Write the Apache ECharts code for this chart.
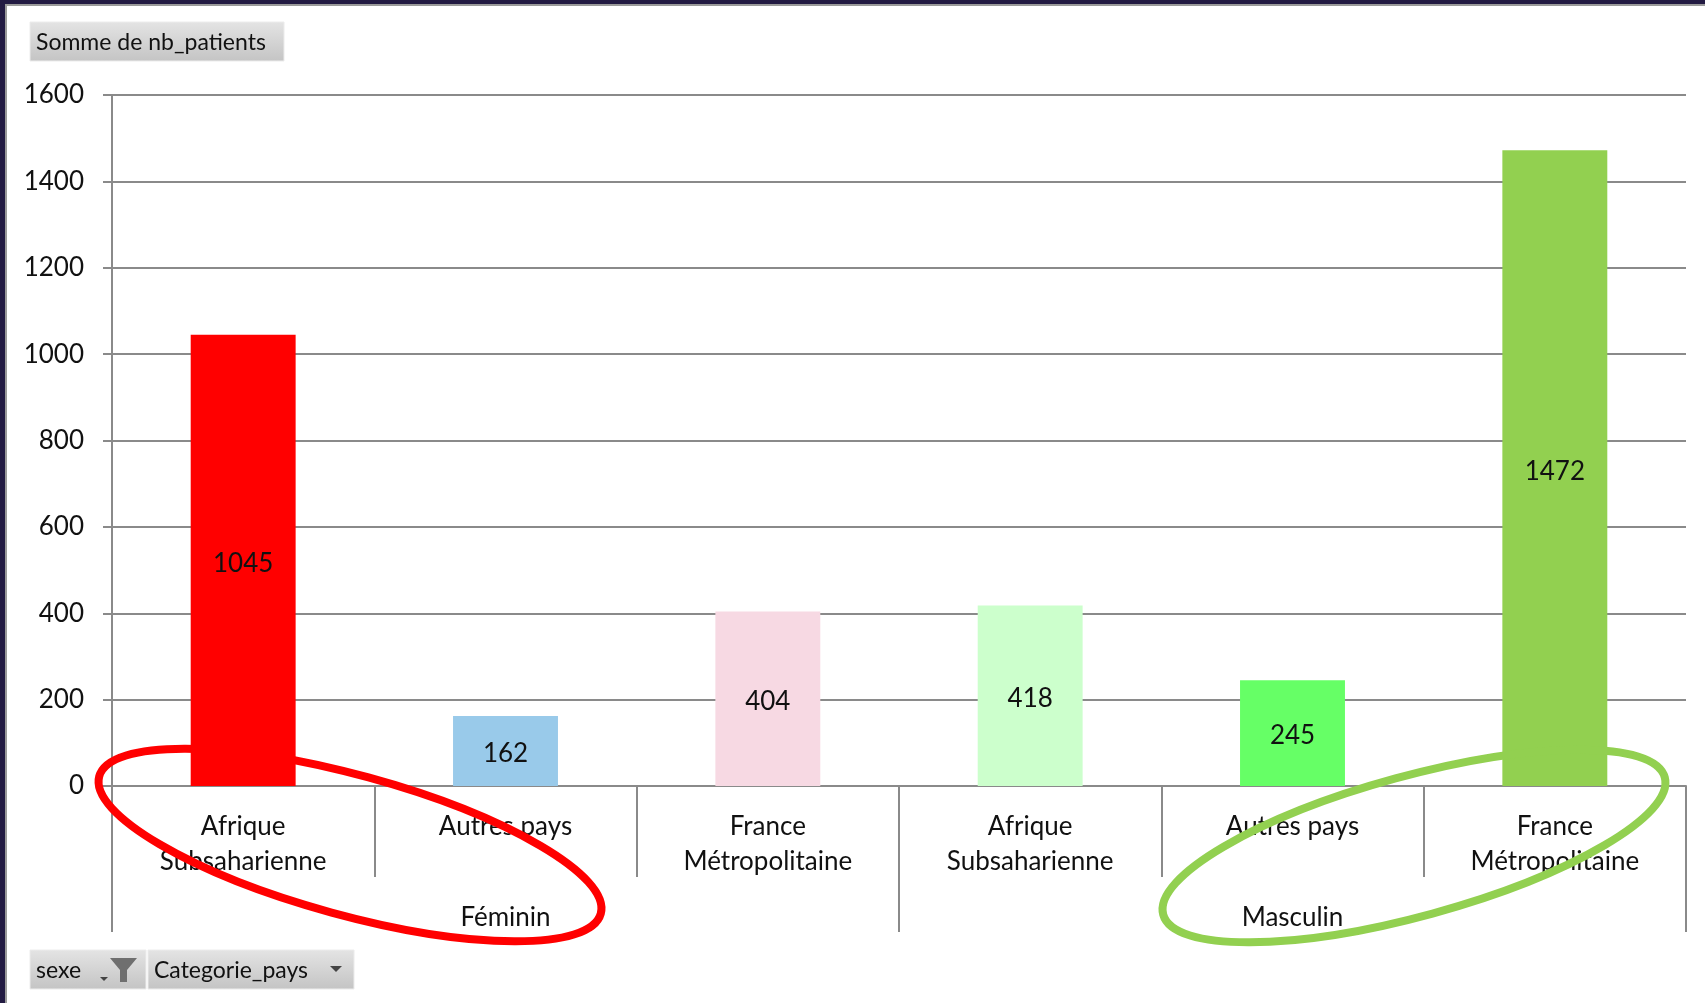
<!DOCTYPE html>
<html>
<head>
<meta charset="utf-8">
<title>Somme de nb_patients</title>
<script src="https://cdn.jsdelivr.net/npm/echarts@6/dist/echarts.min.js"></script>
<style>
  html, body { margin: 0; padding: 0; background: #fff; }
  #chart { width: 1705px; height: 1003px; }
</style>
</head>
<body>
<div id="chart"></div>
<script>
// data
const categories = ['Afrique\nSubsaharienne', 'Autres pays', 'France\nMétropolitaine',
                    'Afrique\nSubsaharienne', 'Autres pays', 'France\nMétropolitaine']
const groups = ['Féminin', 'Masculin']
const patients = [1045, 162, 404, 418, 245, 1472]
const yTicks = [0, 200, 400, 600, 800, 1000, 1200, 1400, 1600]

const barColors = ['#FF0000', '#99CAEA', '#F7D9E3', '#CCFFCC', '#66FF66', '#92D050']
const font = 'Lato, "Open Sans", sans-serif'
const grey = '#8a8a8a'
const ink = '#111111'

const chart = echarts.init(document.getElementById('chart'))

// excel-like field button
const fieldButton = (x, y, w, h, text, extra) => ({
  type: 'group',
  x, y,
  children: [
    {
      type: 'rect',
      shape: { x: 0, y: 0, width: w, height: h },
      style: {
        fill: new echarts.graphic.LinearGradient(0, 0, 0, 1, [
          { offset: 0, color: '#e4e4e4' },
          { offset: 1, color: '#c4c4c4' }
        ]),
        stroke: '#ececec',
        lineWidth: 1
      }
    },
    {
      type: 'text',
      x: 6, y: h / 2 + 1,
      style: { text, font: '23px ' + font, fill: ink, verticalAlign: 'middle' }
    },
    ...(extra || [])
  ]
})

const dropArrow = (x, y, s) => ({
  type: 'polygon',
  shape: { points: [[x, y], [x + s, y], [x + s / 2, y + s / 2]] },
  style: { fill: '#444' }
})

const option = {
  backgroundColor: '#ffffff',
  animation: false,
  grid: { left: 112, right: 19, top: 95, bottom: 217 },
  xAxis: [
    {
      type: 'category',
      position: 'bottom',
      data: categories,
      axisLine: { lineStyle: { color: grey, width: 2 } },
      axisTick: { show: true, interval: 0, length: 91, lineStyle: { color: grey, width: 2 } },
      axisLabel: {
        interval: 0,
        margin: 23,
        color: ink,
        fontFamily: font,
        fontSize: 26,
        lineHeight: 35,
        align: 'center'
      }
    },
    {
      type: 'category',
      position: 'bottom',
      data: groups,
      axisLine: { show: false },
      axisTick: { show: true, interval: 0, length: 146, lineStyle: { color: grey, width: 2 } },
      axisLabel: {
        interval: 0,
        margin: 114,
        color: ink,
        fontFamily: font,
        fontSize: 26,
        lineHeight: 35
      },
      splitLine: { show: false }
    }
  ],
  yAxis: {
    type: 'value',
    min: yTicks[0],
    max: yTicks[yTicks.length - 1],
    interval: yTicks[1] - yTicks[0],
    axisLine: { show: true, lineStyle: { color: grey, width: 2 } },
    axisTick: { show: true, length: 9, lineStyle: { color: grey, width: 2 } },
    axisLabel: {
      margin: 28,
      color: ink,
      fontFamily: font,
      fontSize: 26,
      formatter: v => String(v)
    },
    splitLine: { lineStyle: { color: grey, width: 2 } }
  },
  series: [
    {
      name: 'Somme de nb_patients',
      type: 'bar',
      xAxisIndex: 0,
      barWidth: '40%',
      data: patients.map((v, i) => ({ value: v, itemStyle: { color: barColors[i] } })),
      label: {
        show: true,
        position: 'inside',
        offset: [0, 3],
        color: ink,
        fontFamily: font,
        fontSize: 26
      },
      z: 2
    }
  ],
  graphic: [
    // window frame
    { type: 'rect', shape: { x: 0, y: 0, width: 1705, height: 4 }, style: { fill: '#221a42' }, z: 50 },
    { type: 'rect', shape: { x: 0, y: 4, width: 1705, height: 2 }, style: { fill: '#9a9a9a' }, z: 50 },
    { type: 'rect', shape: { x: 0, y: 0, width: 5, height: 1003 }, style: { fill: '#221a42' }, z: 50 },
    { type: 'rect', shape: { x: 5, y: 4, width: 2, height: 999 }, style: { fill: '#9a9a9a' }, z: 50 },

    // pivot field buttons
    fieldButton(30, 22, 254, 39, 'Somme de nb_patients'),
    fieldButton(30, 950, 116, 39, 'sexe', [
      dropArrow(70, 27, 8),
      {
        type: 'polygon',
        shape: { points: [[80, 8], [107, 8], [97, 20], [97, 32], [90, 32], [90, 20]] },
        style: { fill: '#6f6f6f' }
      }
    ]),
    fieldButton(148, 950, 206, 39, 'Categorie_pays', [dropArrow(182, 16, 12)]),

    // hand-drawn highlight ellipses
    {
      type: 'ellipse',
      x: 350, y: 845,
      rotation: -15.3 * Math.PI / 180,
      shape: { cx: 0, cy: 0, rx: 260, ry: 70 },
      style: { fill: null, stroke: '#FF0000', lineWidth: 8 },
      z: 100
    },
    {
      type: 'ellipse',
      x: 1414, y: 846,
      rotation: 15.3 * Math.PI / 180,
      shape: { cx: 0, cy: 0, rx: 260, ry: 70 },
      style: { fill: null, stroke: '#92D050', lineWidth: 8 },
      z: 100
    }
  ]
}

chart.setOption(option)
</script>
</body>
</html>
